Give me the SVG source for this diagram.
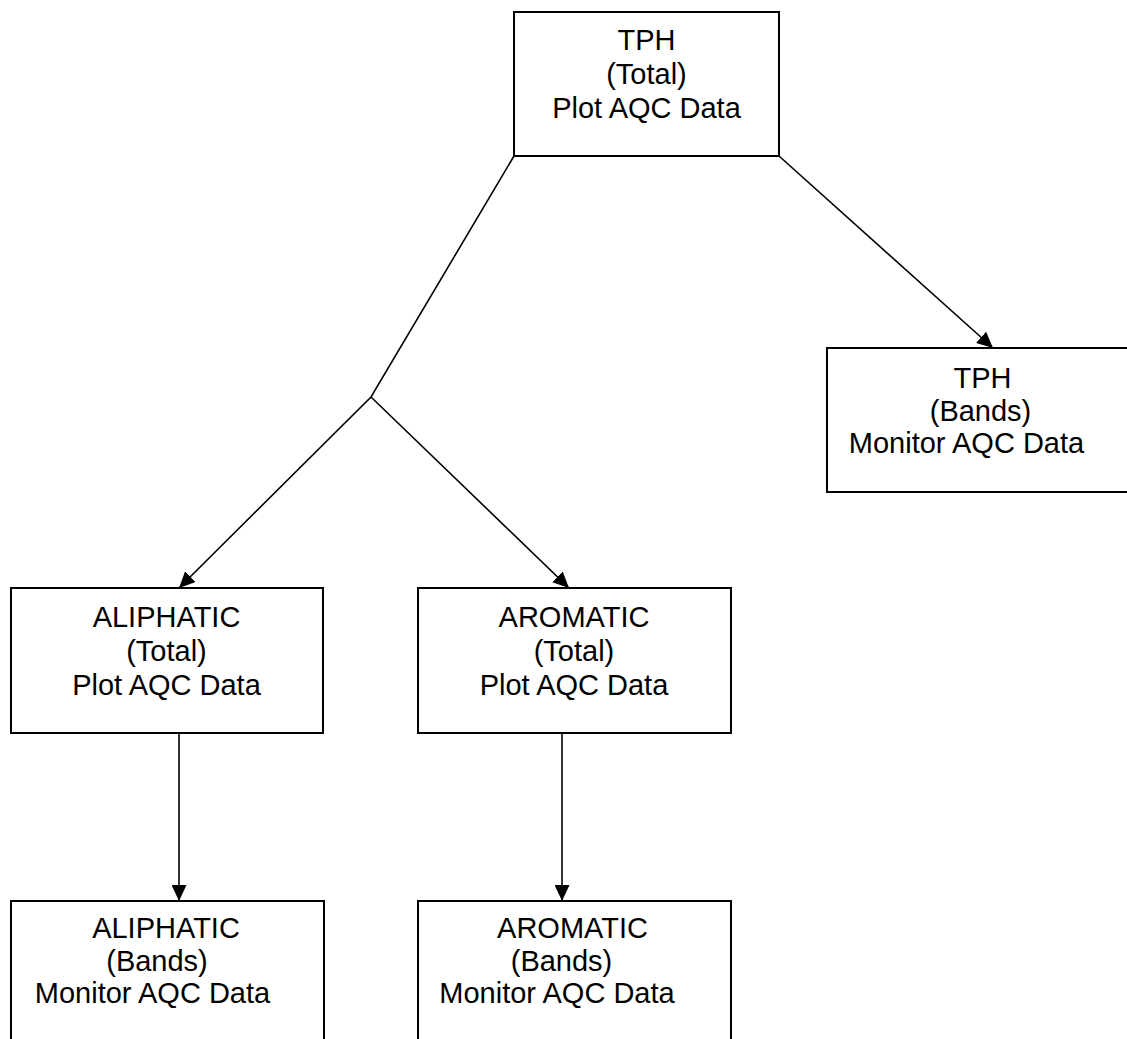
<svg xmlns="http://www.w3.org/2000/svg" width="1127" height="1039" viewBox="0 0 1127 1039">
<style>
.box{fill:#fff;stroke:#000;stroke-width:2}
.t{font-family:"Liberation Sans",Arial,sans-serif;font-size:29px;fill:#000;text-anchor:middle}
.c{fill:none;stroke:#000;stroke-width:1.6}
</style>
<defs>
<marker id="ah" markerUnits="userSpaceOnUse" markerWidth="17" markerHeight="15" refX="16" refY="7.5" orient="auto">
<path d="M0,0 L16,7.5 L0,15 Z" fill="#000"/>
</marker>
</defs>
<rect width="1127" height="1039" fill="#fff"/>
<g id="connectors">
<polyline class="c" points="514,156 371,397 179,588" marker-end="url(#ah)"/>
<line class="c" x1="371" y1="397" x2="569" y2="588" marker-end="url(#ah)"/>
<line class="c" x1="779" y1="156" x2="993" y2="348" marker-end="url(#ah)"/>
<line class="c" x1="179" y1="733" x2="179" y2="901" marker-end="url(#ah)"/>
<line class="c" x1="562" y1="733" x2="562" y2="901" marker-end="url(#ah)"/>
</g>
<g id="tph-total">
<rect class="box" x="514" y="12" width="265" height="144"/>
<text class="t" x="646.5" y="50">TPH</text>
<text class="t" x="646.5" y="84">(Total)</text>
<text class="t" x="646.5" y="118">Plot AQC Data</text>
</g>
<g id="tph-bands">
<rect class="box" x="827" y="348" width="310" height="144"/>
<text class="t" x="982.5" y="387.5">TPH</text>
<text class="t" x="980.5" y="420.5">(Bands)</text>
<text class="t" x="966.5" y="453">Monitor AQC Data</text>
</g>
<g id="aliphatic-total">
<rect class="box" x="11" y="588" width="312" height="145"/>
<text class="t" x="166.5" y="627">ALIPHATIC</text>
<text class="t" x="166.5" y="661">(Total)</text>
<text class="t" x="166.5" y="695">Plot AQC Data</text>
</g>
<g id="aromatic-total">
<rect class="box" x="418" y="588" width="313" height="145"/>
<text class="t" x="574" y="627">AROMATIC</text>
<text class="t" x="574" y="661">(Total)</text>
<text class="t" x="574" y="695">Plot AQC Data</text>
</g>
<g id="aliphatic-bands">
<rect class="box" x="11" y="901" width="313" height="160"/>
<text class="t" x="166" y="938">ALIPHATIC</text>
<text class="t" x="157" y="970.5">(Bands)</text>
<text class="t" x="152.5" y="1003">Monitor AQC Data</text>
</g>
<g id="aromatic-bands">
<rect class="box" x="418" y="901" width="313" height="160"/>
<text class="t" x="572.5" y="938">AROMATIC</text>
<text class="t" x="561.5" y="970.5">(Bands)</text>
<text class="t" x="557" y="1003">Monitor AQC Data</text>
</g>
</svg>
